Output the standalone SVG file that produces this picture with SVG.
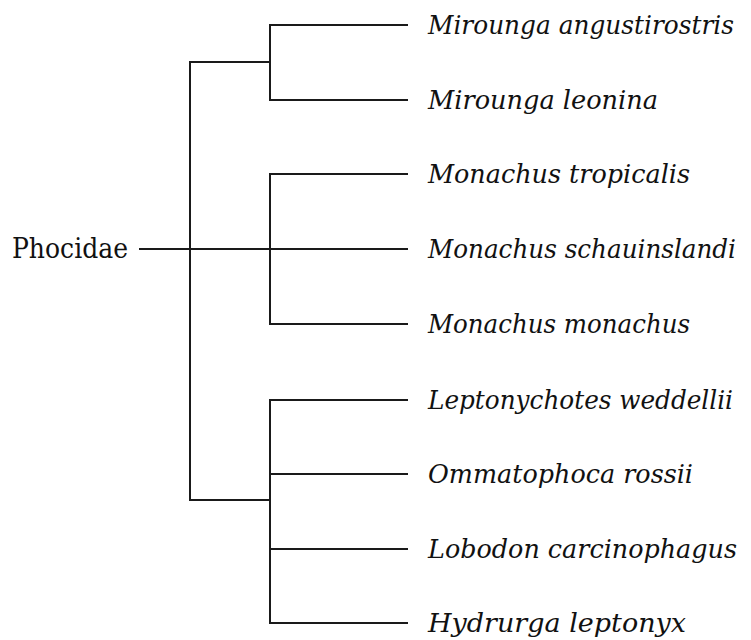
<svg xmlns="http://www.w3.org/2000/svg" width="751" height="640" viewBox="0 0 751 640">
<style>
.e{stroke:#1a1a1a;stroke-width:2;fill:none;stroke-linecap:square}
text{font-family:'DejaVu Serif',serif;font-size:27px;fill:#111}
.i{font-style:italic;font-size:25.5px}
</style>
<rect width="751" height="640" fill="#fff"/>
<g id="connectors">
<path class="e" d="M140 249H407"/>
<path class="e" d="M190 62V500"/>
<path class="e" d="M190 62H270M270 25V100M270 25H407M270 100H407"/>
<path class="e" d="M270 174V324M270 174H407M270 324H407"/>
<path class="e" d="M190 500H270M270 400V623M270 400H407M270 474H407M270 549H407M270 623H407"/>
</g>
<g id="root"><text x="12" y="258" textLength="116" lengthAdjust="spacingAndGlyphs">Phocidae</text></g>
<g id="n1"><text class="i" x="428" y="34" textLength="306" lengthAdjust="spacingAndGlyphs">Mirounga angustirostris</text></g>
<g id="n2"><text class="i" x="428" y="109" textLength="230" lengthAdjust="spacingAndGlyphs">Mirounga leonina</text></g>
<g id="n3"><text class="i" x="428" y="183" textLength="262" lengthAdjust="spacingAndGlyphs">Monachus tropicalis</text></g>
<g id="n4"><text class="i" x="428" y="258" textLength="308" lengthAdjust="spacingAndGlyphs">Monachus schauinslandi</text></g>
<g id="n5"><text class="i" x="428" y="333" textLength="262" lengthAdjust="spacingAndGlyphs">Monachus monachus</text></g>
<g id="n6"><text class="i" x="428" y="409" textLength="305" lengthAdjust="spacingAndGlyphs">Leptonychotes weddellii</text></g>
<g id="n7"><text class="i" x="428" y="483" textLength="265" lengthAdjust="spacingAndGlyphs">Ommatophoca rossii</text></g>
<g id="n8"><text class="i" x="428" y="558" textLength="309" lengthAdjust="spacingAndGlyphs">Lobodon carcinophagus</text></g>
<g id="n9"><text class="i" x="428" y="632" textLength="258" lengthAdjust="spacingAndGlyphs">Hydrurga leptonyx</text></g>
</svg>
